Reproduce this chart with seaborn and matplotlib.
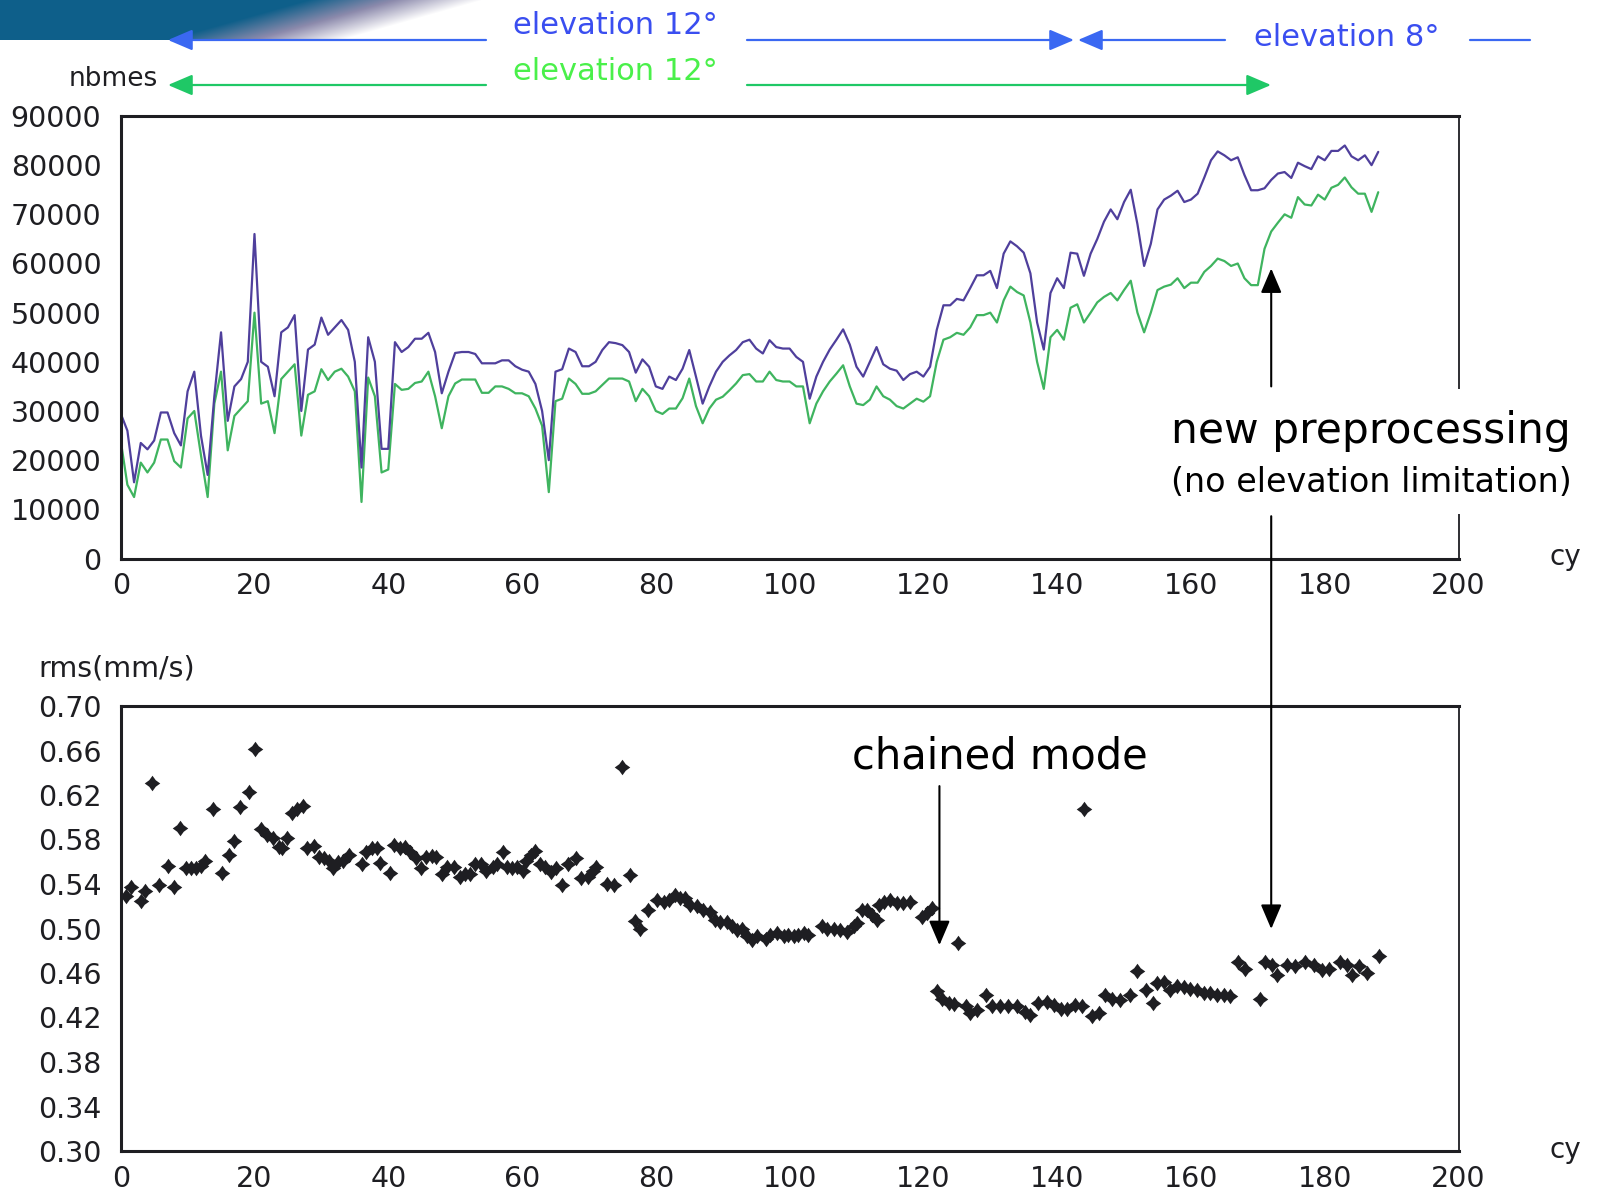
import numpy as np
import matplotlib
matplotlib.use("Agg")
import matplotlib.pyplot as plt
import seaborn as sns
from matplotlib.patches import FancyArrowPatch, Rectangle
from matplotlib.path import Path
from matplotlib.markers import MarkerStyle
from matplotlib.ticker import MultipleLocator, FormatStrFormatter

# ---------------- data ----------------
cycles = np.arange(0, 189)
nbmes_all = [29500, 26000, 15500, 23500, 22200, 24000, 29700, 29700, 25500, 23000,
             34000, 38000, 25000, 17000, 33000, 46000, 28000, 35000, 36500, 40000,
             66000, 40000, 39000, 33000, 46000, 47000, 49500, 30000, 42500, 43500,
             49000, 45500, 47000, 48500, 46500, 40000, 18500, 45000, 40000, 22300,
             22300, 44000, 42000, 43000, 44700, 44700, 45900, 42000, 33600, 38000,
             41800, 42000, 42000, 41600, 39700, 39700, 39700, 40300, 40300, 39100,
             38400, 38000, 35500, 30000, 20000, 38000, 38500, 42700, 42000, 39100,
             39100, 40000, 42400, 44000, 43800, 43400, 42000, 37800, 40500, 39000,
             35000, 34500, 37000, 36300, 38600, 42400, 37000, 31500, 35000, 38000,
             40000, 41300, 42400, 44000, 44500, 42700, 41700, 44400, 43000, 42700,
             42700, 41000, 40000, 32500, 37000, 40000, 42500, 44500, 46600, 43500,
             39000, 37000, 40000, 43000, 39500, 38600, 38200, 36300, 37500, 38000,
             37000, 39000, 46500, 51500, 51500, 52800, 52500, 55000, 57600, 57600,
             58500, 55000, 62000, 64500, 63500, 62200, 58000, 48000, 42500, 54000,
             57000, 55000, 62200, 62000, 57500, 62000, 65000, 68500, 71000, 69000,
             72500, 75000, 68000, 59500, 64000, 71000, 73000, 73800, 74800, 72500,
             73000, 74200, 77500, 81000, 82800, 82000, 81000, 81600, 78000, 74900,
             74900, 75300, 77000, 78300, 78600, 77400, 80500, 79800, 79200, 81800,
             81000, 82900, 82900, 84000, 81800, 81000, 82000, 80000, 82700]
nbmes_12 = [24000, 15000, 12500, 19500, 17500, 19500, 24200, 24200, 19800, 18500,
            28500, 30000, 21000, 12500, 31500, 38000, 22000, 29000, 30500, 32000,
            50000, 31500, 32000, 25500, 36500, 38000, 39500, 25000, 33300, 34000,
            38500, 36300, 38000, 38600, 37000, 34000, 11500, 36800, 33000, 17500,
            18100, 35500, 34300, 34500, 35700, 36000, 38000, 33000, 26500, 33000,
            35600, 36400, 36400, 36400, 33700, 33700, 35000, 35000, 34500, 33600,
            33600, 33000, 30500, 27000, 13500, 32000, 32500, 36600, 35500, 33500,
            33500, 34000, 35300, 36600, 36600, 36600, 36000, 32000, 34500, 33000,
            30000, 29400, 30500, 30500, 32600, 36600, 31000, 27500, 30500, 32300,
            32900, 34200, 35600, 37300, 37500, 36000, 36000, 38000, 36300, 36000,
            36000, 35000, 35000, 27500, 31500, 34000, 36000, 37600, 39300, 35000,
            31500, 31200, 32300, 35000, 33000, 32300, 31000, 30500, 31500, 32500,
            31900, 33000, 40000, 44500, 45000, 45900, 45500, 47000, 49500, 49500,
            50000, 48000, 52500, 55300, 54200, 53500, 48000, 40000, 34500, 45000,
            46500, 44500, 51000, 51700, 48000, 50000, 52100, 53200, 54000, 52500,
            54600, 56500, 50000, 46000, 50000, 54600, 55300, 55700, 57000, 55000,
            56100, 56100, 58300, 59500, 61000, 60500, 59500, 60000, 57000, 55600,
            55600, 63000, 66500, 68300, 70000, 69300, 73500, 72000, 71800, 74000,
            73000, 75400, 76000, 77500, 75500, 74200, 74200, 70500, 74500]

rms_cycle = [0.8, 1.6, 3.0, 3.7, 4.7, 5.8, 7.1, 7.9, 8.9, 9.7, 10.5, 11.3, 12.0, 12.6,
             13.8, 15.1, 16.2, 16.9, 17.8, 19.2, 20.1, 21.0, 21.9, 22.8, 23.6, 24.1,
             24.9, 25.6, 26.4, 27.2, 27.8, 28.9, 29.7, 30.4, 31.2, 31.8, 32.5, 33.3,
             34.1, 36.0, 36.7, 37.5, 38.3, 38.7, 40.2, 40.8, 41.7, 42.5, 43.3, 44.1,
             44.9, 45.7, 46.5, 47.2, 48.0, 48.8, 49.9, 50.7, 51.4, 52.2, 53.0, 53.8,
             54.6, 55.6, 56.2, 57.1, 57.7, 58.5, 59.3, 60.1, 60.6, 61.3, 62.0, 62.7,
             63.5, 64.3, 65.1, 66.0, 66.9, 68.1, 68.8, 69.8, 70.6, 71.1, 72.7, 73.7,
             74.9, 76.2, 76.9, 77.7, 78.8, 80.2, 81.2, 81.9, 82.9, 83.6, 84.4, 85.1,
             86.1, 87.1, 88.1, 88.9, 89.6, 90.6, 91.4, 92.1, 92.9, 93.6, 94.4, 95.1,
             96.4, 97.1, 98.1, 99.1, 99.8, 100.6, 101.3, 102.1, 102.8, 104.8, 105.6,
             106.6, 107.6, 108.6, 109.6, 110.1, 110.8, 111.6, 112.3, 113.1, 113.3,
             114.1, 115.0, 116.0, 117.0, 118.0, 119.8, 120.5, 121.3, 122.0, 122.8,
             123.8, 124.6, 125.2, 126.3, 127.0, 128.0, 129.4, 130.2, 131.5, 132.7,
             134.0, 135.2, 136.0, 137.2, 138.5, 139.5, 140.5, 141.5, 142.7, 143.7,
             144.0, 145.2, 146.2, 147.2, 148.2, 149.4, 150.9, 152.0, 153.3, 154.3,
             154.9, 155.9, 156.9, 157.9, 158.9, 159.9, 160.9, 161.9, 162.9, 163.9,
             164.9, 165.9, 167.1, 168.1, 170.3, 171.1, 172.1, 172.9, 174.4, 175.6,
             177.1, 178.4, 179.6, 180.6, 182.3, 183.3, 184.1, 185.1, 186.3, 188.1]
rms_value = [0.529, 0.537, 0.525, 0.534, 0.631, 0.539, 0.556, 0.537, 0.590, 0.554,
             0.554, 0.554, 0.556, 0.561, 0.607, 0.550, 0.566, 0.579, 0.609, 0.623,
             0.661, 0.589, 0.584, 0.581, 0.573, 0.572, 0.581, 0.604, 0.607, 0.610,
             0.572, 0.574, 0.564, 0.563, 0.561, 0.554, 0.560, 0.561, 0.566, 0.558,
             0.569, 0.572, 0.572, 0.559, 0.550, 0.575, 0.572, 0.573, 0.569, 0.563,
             0.554, 0.564, 0.565, 0.564, 0.549, 0.555, 0.555, 0.546, 0.549, 0.549,
             0.558, 0.558, 0.552, 0.555, 0.558, 0.569, 0.555, 0.554, 0.555, 0.552,
             0.561, 0.566, 0.570, 0.558, 0.555, 0.551, 0.554, 0.539, 0.558, 0.563,
             0.545, 0.546, 0.552, 0.555, 0.540, 0.539, 0.645, 0.548, 0.507, 0.500,
             0.517, 0.526, 0.524, 0.526, 0.530, 0.527, 0.527, 0.521, 0.520, 0.517,
             0.515, 0.508, 0.506, 0.506, 0.502, 0.499, 0.500, 0.493, 0.490, 0.493,
             0.491, 0.494, 0.496, 0.493, 0.494, 0.493, 0.494, 0.496, 0.494, 0.502,
             0.500, 0.500, 0.499, 0.497, 0.502, 0.505, 0.517, 0.517, 0.512, 0.508,
             0.521, 0.524, 0.526, 0.523, 0.523, 0.524, 0.510, 0.514, 0.518, 0.444,
             0.437, 0.433, 0.432, 0.487, 0.430, 0.424, 0.427, 0.440, 0.430, 0.430,
             0.430, 0.430, 0.425, 0.422, 0.433, 0.434, 0.431, 0.428, 0.428, 0.431,
             0.430, 0.607, 0.421, 0.424, 0.440, 0.437, 0.436, 0.440, 0.462, 0.445,
             0.433, 0.451, 0.452, 0.445, 0.448, 0.447, 0.446, 0.445, 0.442, 0.442,
             0.440, 0.440, 0.439, 0.470, 0.464, 0.437, 0.470, 0.467, 0.458, 0.467,
             0.466, 0.470, 0.467, 0.463, 0.464, 0.470, 0.467, 0.458, 0.466, 0.460,
             0.475]

top_yticks = [0, 10000, 20000, 30000, 40000, 50000, 60000, 70000, 80000, 90000]
bottom_yticks = [0.30, 0.34, 0.38, 0.42, 0.46, 0.50, 0.54, 0.58, 0.62, 0.66, 0.70]
x_ticks = [0, 20, 40, 60, 80, 100, 120, 140, 160, 180, 200]

# ---------------- styling ----------------
sns.set_style("white")
plt.rcParams['font.family'] = ['DejaVu Sans']
W, H = 1597, 1190
fig = plt.figure(figsize=(W / 100, H / 100), dpi=100)
fig.patch.set_facecolor("white")

def fx(px):
    return px / W

def fy(py):
    return 1 - py / H

INK = "#1e1e22"
PURPLE = "#4f3f9c"
GREEN = "#3fb45f"
TICK_FS = 20.5

ax1 = fig.add_axes([fx(120.7), fy(558.5), fx(1458.5) - fx(120.7), fy(116) - fy(558.5)])
ax2 = fig.add_axes([fx(120.7), fy(1151), fx(1458.5) - fx(120.7), fy(706) - fy(1151)])

sns.lineplot(x=cycles, y=nbmes_12, ax=ax1, color=GREEN, lw=1.6,
             estimator=None, sort=False)
sns.lineplot(x=cycles, y=nbmes_all, ax=ax1, color=PURPLE, lw=1.6,
             estimator=None, sort=False)

star = Path([(0, 1), (0.42, 0.42), (1, 0), (0.42, -0.42), (0, -1),
             (-0.42, -0.42), (-1, 0), (-0.42, 0.42), (0, 1)],
            [Path.MOVETO] + [Path.LINETO] * 7 + [Path.CLOSEPOLY])
sns.scatterplot(x=rms_cycle, y=rms_value, ax=ax2, color=INK, marker=MarkerStyle(star),
                s=125, linewidth=0)

for ax in (ax1, ax2):
    ax.set_xlim(0, 200)
    ax.set_xticks(x_ticks)
    ax.xaxis.set_minor_locator(MultipleLocator(10))
    ax.set_xlabel("")
    ax.set_ylabel("")
    for side in ("left", "bottom", "top"):
        ax.spines[side].set_linewidth(2.2)
        ax.spines[side].set_color(INK)
    ax.spines["right"].set_linewidth(1.3)
    ax.spines["right"].set_color(INK)
    ax.tick_params(axis="x", which="major", length=4, width=2, color=INK,
                   labelsize=TICK_FS, pad=6, labelcolor=INK, direction="out")
    ax.tick_params(axis="x", which="minor", length=2.5, width=2, color=INK,
                   direction="out")
    ax.tick_params(axis="y", which="major", length=11, width=2, color=INK,
                   labelsize=TICK_FS, pad=3, labelcolor=INK, direction="out")
    ax.tick_params(axis="y", which="minor", length=7, width=2, color=INK,
                   direction="out")
    ax.set_facecolor("white")
    ax.grid(False)

ax1.set_ylim(0, 90000)
ax1.set_yticks(top_yticks)
ax1.yaxis.set_minor_locator(MultipleLocator(5000))
ax1.set_yticklabels([str(v) for v in top_yticks])

ax2.set_ylim(0.30, 0.70)
ax2.set_yticks(bottom_yticks)
ax2.yaxis.set_minor_locator(MultipleLocator(0.02))
ax2.yaxis.set_major_formatter(FormatStrFormatter("%.2f"))

# axis titles
fig.text(fx(158), fy(79), "nbmes", ha="right", va="center", fontsize=19, color=INK)
fig.text(fx(38), fy(669), "rms(mm/s)", ha="left", va="center", fontsize=20.5, color=INK)
fig.text(fx(1565), fy(557), "cy", ha="center", va="center", fontsize=20, color=INK)
fig.text(fx(1565), fy(1150), "cy", ha="center", va="center", fontsize=20, color=INK)

# ---------------- banner (top-left gradient) ----------------
bw, bh = 500, 40
bx = np.arange(bw)[None, :]
by = np.arange(bh)[:, None]
edge = 306 - 138 * (by / (bh - 1))
t = np.clip((bx - edge) / 175.0, 0, 1)
c0 = np.array([14, 95, 138]) / 255
c1 = np.array([140, 138, 172]) / 255
c2 = np.array([1.0, 1.0, 1.0])
t3 = t[..., None]
img = np.where(t3 < 0.5, c0 + (c1 - c0) * (t3 / 0.5), c1 + (c2 - c1) * ((t3 - 0.5) / 0.5))
bax = fig.add_axes([0, fy(bh), fx(bw), bh / H])
bax.imshow(img, aspect="auto", interpolation="nearest")
bax.axis("off")

# ---------------- header arrows ----------------
BLUE_L = "#3a68f2"
BLUE_T = "#3a4ef0"
GREEN_L = "#1fc866"
GREEN_T = "#4af04a"

def farrow(x0, y0, x1, y1, color, head=True):
    style = "-|>,head_length=0.75,head_width=0.32" if head else "-"
    a = FancyArrowPatch((fx(x0), fy(y0)), (fx(x1), fy(y1)), transform=fig.transFigure,
                        arrowstyle=style, mutation_scale=20, color=color, lw=1.6,
                        shrinkA=0, shrinkB=0)
    fig.add_artist(a)

# blue row
farrow(486, 40, 168, 40, BLUE_L)
farrow(747, 40, 1074, 40, BLUE_L)
farrow(1225, 40, 1078, 40, BLUE_L)
farrow(1470, 40, 1530, 40, BLUE_L, head=False)
fig.text(fx(615), fy(26), "elevation 12°", ha="center", va="center", fontsize=22, color=BLUE_T)
fig.text(fx(1347), fy(37), "elevation 8°", ha="center", va="center", fontsize=22, color=BLUE_T)
# green row
farrow(486, 85, 168, 85, GREEN_L)
farrow(747, 85, 1271, 85, GREEN_L)
fig.text(fx(615), fy(71), "elevation 12°", ha="center", va="center", fontsize=22, color=GREEN_T)

# ---------------- annotations ----------------
arrow_kw = dict(arrowstyle="-|>,head_length=0.75,head_width=0.32", mutation_scale=20,
                color="black", lw=1.5, shrinkA=0, shrinkB=0)
# chained mode
ax2.annotate("", xy=(122.4, 0.485), xytext=(122.4, 0.628), xycoords="data",
             textcoords="data", arrowprops=arrow_kw, annotation_clip=False)
ax2.text(131.5, 0.655, "chained mode", ha="center", va="center", fontsize=30, color="black")

# new preprocessing: upward arrow in top chart, downward arrow into bottom chart
ax1.annotate("", xy=(172, 59000), xytext=(172, 35000), xycoords="data",
             textcoords="data", arrowprops=arrow_kw, annotation_clip=False)
ax2.annotate("", xy=(172, 0.4996), xycoords=ax2.transData,
             xytext=(172, 8600), textcoords=ax1.transData,
             arrowprops=arrow_kw, annotation_clip=False)

fig.add_artist(Rectangle((fx(1161), fy(514)), fx(1589) - fx(1161), fy(389) - fy(514),
                         transform=fig.transFigure, facecolor="white", edgecolor="none",
                         zorder=2))
fig.text(fx(1371), fy(431), "new preprocessing", ha="center", va="center", fontsize=30.5,
         color="black", zorder=3)
fig.text(fx(1371), fy(482), "(no elevation limitation)", ha="center", va="center",
         fontsize=24, color="black", zorder=3)

fig.savefig("out.png", dpi=100, facecolor="white")
